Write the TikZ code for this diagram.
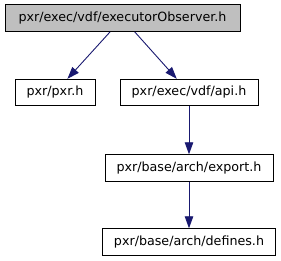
\documentclass[tikz,border=0pt]{standalone}
\usepackage{fontspec}
\setmainfont{DejaVu Sans}
\usetikzlibrary{arrows.meta}
\definecolor{edgeblue}{HTML}{191970}
\definecolor{topgray}{HTML}{BFBFBF}
\begin{document}
\begin{tikzpicture}[x=1pt,y=-1pt,
  box/.style={draw=black,line width=0.9pt,fill=white,inner sep=0pt,minimum height=26.5pt,font=\fontsize{12.7}{15}\selectfont},
  edge/.style={draw=edgeblue,line width=0.9pt,-{Triangle[length=12pt,width=8.5pt]}}]
\useasboundingbox (0,0) rectangle (281,261);
\node[box,fill=topgray,minimum width=235pt] (top) at (122.5,18.2) {pxr/exec/vdf/executorObserver.h};
\node[box,minimum width=80pt] (pxr) at (55,92.5) {pxr/pxr.h};
\node[box,minimum width=138pt] (api) at (189,92.5) {pxr/exec/vdf/api.h};
\node[box,minimum width=168pt] (export) at (189,168) {pxr/base/arch/export.h};
\node[box,minimum width=173pt] (defines) at (189,242) {pxr/base/arch/defines.h};
\draw[edge] (top) -- (pxr);
\draw[edge] (top) -- (api);
\draw[edge] (api) -- (export);
\draw[edge] (export) -- (defines);
\end{tikzpicture}
\end{document}
